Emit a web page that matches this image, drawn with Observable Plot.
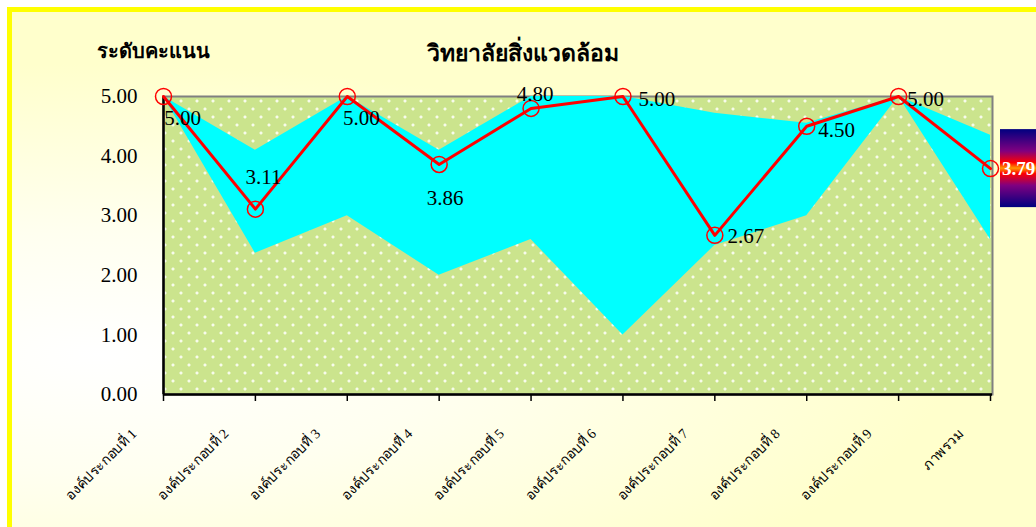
<!DOCTYPE html>
<html>
<head>
<meta charset="utf-8">
<script src="https://cdn.jsdelivr.net/npm/d3@7"></script>
<script src="https://cdn.jsdelivr.net/npm/@observablehq/plot@0.6"></script>
<style>
  html, body { margin: 0; padding: 0; background: #ffffff; width: 1036px; height: 527px; overflow: hidden; }
  #frame {
    position: absolute; left: 7px; top: 7px; width: 1100px; height: 600px;
    border: 5px solid #FFFF00; box-sizing: border-box;
    background: radial-gradient(ellipse at 8% 58%, #ffffff 0%, #fffff0 25%, #ffffcc 60%);
  }
  #chart { position: absolute; left: 0; top: 0; }
  .ttl { position: absolute; font-family: "Liberation Serif", "Noto Sans", serif; font-weight: bold; color: #000; white-space: nowrap; }
</style>
</head>
<body>
<div id="frame"></div>
<svg width="0" height="0" style="position:absolute">
  <defs>
    <pattern id="chk" width="2" height="2" patternUnits="userSpaceOnUse">
      <rect width="2" height="2" fill="#B6D86C"/>
      <rect x="0" y="0" width="1" height="1" fill="#DFF0AE"/>
      <rect x="1" y="1" width="1" height="1" fill="#DFF0AE"/>
    </pattern>
    <pattern id="grn" width="16" height="16" patternUnits="userSpaceOnUse">
      <rect width="16" height="16" fill="url(#chk)"/>
      <rect x="3" y="4" width="3" height="1" fill="#ffffff"/>
      <rect x="4" y="3" width="1" height="3" fill="#ffffff"/>
      <rect x="11" y="12" width="3" height="1" fill="#ffffff"/>
      <rect x="12" y="11" width="1" height="3" fill="#ffffff"/>
    </pattern>
    <linearGradient id="boxg" x1="0" y1="0" x2="0" y2="1">
      <stop offset="0" stop-color="#000080"/>
      <stop offset="0.28" stop-color="#800080"/>
      <stop offset="0.43" stop-color="#FF0000"/>
      <stop offset="0.5" stop-color="#FF9900"/>
      <stop offset="0.57" stop-color="#FF0000"/>
      <stop offset="0.72" stop-color="#800080"/>
      <stop offset="1" stop-color="#000080"/>
    </linearGradient>
  </defs>
</svg>
<div id="chart"></div>
<div class="ttl" style="left:97px; top:35px; font-size:20px;">ระดับคะแนน</div>
<div class="ttl" style="left:0; width:1046px; text-align:center; top:35px; font-size:23px;">วิทยาลัยสิ่งแวดล้อม</div>
<script>
const categories = ["องค์ประกอบที่ 1", "องค์ประกอบที่ 2", "องค์ประกอบที่ 3", "องค์ประกอบที่ 4", "องค์ประกอบที่ 5",
                    "องค์ประกอบที่ 6", "องค์ประกอบที่ 7", "องค์ประกอบที่ 8", "องค์ประกอบที่ 9", "ภาพรวม"];
const scores    = [5.00, 3.11, 5.00, 3.86, 4.80, 5.00, 2.67, 4.50, 5.00, 3.79];
const maxScores = [5.00, 4.10, 5.00, 4.10, 5.00, 5.00, 4.72, 4.55, 5.00, 4.35];
const minScores = [5.00, 2.37, 3.00, 2.00, 2.60, 1.00, 2.50, 3.00, 5.00, 2.60];
const yTicks = [0, 1, 2, 3, 4, 5];
// label offsets (style only)
const labelDx = [19, 8, 14, 6, 4, 34, 31, 30, 27, 0];
const labelDy = [17, -37, 17, 29, -19, -2, -4, -1, -2, 0];

const rows = categories.map((c, i) => ({cat: c, score: scores[i], hi: maxScores[i], lo: minScores[i], dx: labelDx[i], dy: labelDy[i], i}));
const serif = '"Liberation Serif", "Noto Sans", serif';

const chart = Plot.plot({
  width: 1036, height: 527,
  marginLeft: 163, marginRight: 44, marginTop: 96, marginBottom: 133,
  style: {background: "transparent", fontFamily: serif, overflow: "visible"},
  x: {type: "point", domain: categories, padding: 0, round: false, insetRight: 2},
  y: {domain: [0, 5]},
  marks: [
    Plot.frame({fill: "url(#grn)", stroke: "#808080", strokeWidth: 2}),
    Plot.areaY(rows, {x: "cat", y1: "lo", y2: "hi", fill: "#00FFFF", fillOpacity: 1}),
    Plot.ruleY([0], {stroke: "#000", strokeWidth: 2.5}),
    Plot.ruleX([categories[0]], {x: d => d, stroke: "#000", strokeWidth: 2.5}),
    Plot.axisY(yTicks, {tickSize: 0, tickPadding: 26, tickFormat: d => d.toFixed(2), fontSize: 21, fill: "#000", label: null}),
    Plot.axisX({tickSize: 7, tickPadding: 0, tickFormat: () => "", label: null, strokeWidth: 1.5}),
    Plot.text(categories, {x: d => d, frameAnchor: "bottom", dy: 40, dx: -26, rotate: -45, textAnchor: "end", fontSize: 14, fill: "#000"}),
    Plot.lineY(rows, {x: "cat", y: "score", stroke: "#FF0000", strokeWidth: 3}),
    Plot.dot(rows, {x: "cat", y: "score", r: 8, stroke: "#FF0000", strokeWidth: 1.5, fill: "none"}),
    Plot.text(rows.slice(0, 9), {x: "cat", y: "score", text: d => d.score.toFixed(2), fontSize: 21, fill: "#000"})
  ]
});
document.getElementById("chart").appendChild(chart);

// apply per-label offsets to value labels
const svg = d3.select(chart);
const xs = chart.scale("x"), ys = chart.scale("y");
const textGroups = svg.selectAll("g[aria-label='text']").nodes();
d3.select(textGroups[textGroups.length - 1]).selectAll("text").each(function(_, k) {
  d3.select(this).attr("dx", rows[k].dx).attr("dy", rows[k].dy).attr("dominant-baseline", "middle");
});
const last = rows[rows.length - 1];
const bx = xs.apply(last.cat) + 10, by = ys.apply(last.score);
const g = svg.append("g");
g.append("rect").attr("x", bx).attr("y", by - 39).attr("width", 60).attr("height", 78).attr("fill", "url(#boxg)");
g.append("text").attr("x", bx + 2).attr("y", by).attr("dy", "0.35em").attr("fill", "#fff").attr("text-anchor", "start")
  .attr("font-weight", "bold").attr("font-size", 19).attr("font-family", serif).text(last.score.toFixed(2));
</script>
</body>
</html>
